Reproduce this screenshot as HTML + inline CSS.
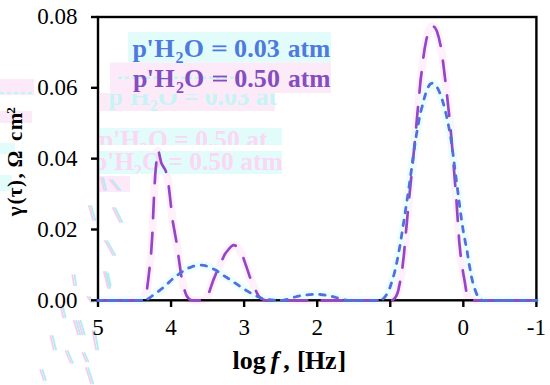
<!DOCTYPE html>
<html><head><meta charset="utf-8"><style>
html,body{margin:0;padding:0;background:#fff;}
body{width:550px;height:385px;overflow:hidden;}
svg{display:block;}
text{font-family:"Liberation Serif",serif;}
</style></head><body>
<svg width="550" height="385" viewBox="0 0 550 385">
<rect x="0" y="0" width="550" height="385" fill="#fff"/>
<defs>
<clipPath id="cg1"><rect x="98" y="94" width="190" height="17"/></clipPath>
<clipPath id="cg2"><rect x="98" y="128" width="190" height="17"/></clipPath>
<clipPath id="cg3"><rect x="98" y="151" width="190" height="23"/></clipPath>
</defs>
<g id="halo" fill="none" stroke-linecap="round" stroke-linejoin="round" stroke-width="8">
<path d="M98.00 300.30 C99.00 300.30 102.00 300.30 104.00 300.30 C106.00 300.30 108.00 300.30 110.00 300.30 C112.00 300.30 114.00 300.30 116.00 300.30 C118.00 300.30 120.00 300.30 122.00 300.30 C124.00 300.30 126.00 300.30 128.00 300.30 C130.00 300.30 132.00 300.30 134.00 300.30 C136.00 300.30 138.50 300.38 140.00 300.30 C141.50 300.22 142.17 300.35 143.00 299.80 C143.83 299.25 144.52 298.01 145.00 297.00 C145.48 295.99 145.60 294.83 145.90 293.75 C146.20 292.67 146.53 291.92 146.80 290.50 C147.07 289.08 147.27 287.00 147.50 285.25 C147.73 283.50 147.97 281.82 148.20 280.00 C148.42 278.18 148.63 276.20 148.85 274.30 C149.07 272.40 149.31 270.31 149.50 268.60 C149.69 266.89 149.83 265.58 150.00 264.07 C150.17 262.56 150.33 261.04 150.50 259.53 C150.67 258.02 150.86 256.59 151.00 255.00 C151.14 253.41 151.22 251.67 151.32 250.00 C151.43 248.33 151.54 246.67 151.65 245.00 C151.76 243.33 151.87 241.67 151.98 240.00 C152.08 238.33 152.21 236.67 152.30 235.00 C152.39 233.33 152.45 231.67 152.52 230.00 C152.59 228.33 152.67 226.67 152.74 225.00 C152.81 223.33 152.89 221.67 152.96 220.00 C153.03 218.33 153.11 216.67 153.18 215.00 C153.25 213.33 153.33 211.67 153.40 210.00 C153.47 208.33 153.55 206.67 153.62 205.00 C153.70 203.33 153.78 201.67 153.85 200.00 C153.93 198.33 154.00 196.67 154.08 195.00 C154.15 193.33 154.21 191.72 154.30 190.00 C154.39 188.28 154.52 186.44 154.63 184.67 C154.74 182.89 154.86 181.11 154.97 179.33 C155.08 177.56 155.16 175.85 155.30 174.00 C155.44 172.15 155.63 170.17 155.80 168.25 C155.97 166.33 156.15 164.08 156.30 162.50 C156.45 160.92 156.57 160.00 156.70 158.75 C156.83 157.50 156.90 156.32 157.10 155.00 C157.30 153.68 157.62 151.30 157.90 150.80 C158.18 150.30 158.45 150.88 158.80 152.00 C159.15 153.12 159.68 156.08 160.00 157.50 C160.32 158.92 160.50 159.50 160.75 160.50 C161.00 161.50 161.04 162.42 161.50 163.50 C161.96 164.58 162.83 165.83 163.50 167.00 C164.17 168.17 164.87 169.00 165.50 170.50 C166.13 172.00 166.89 174.33 167.30 176.00 C167.71 177.67 167.73 179.00 167.95 180.50 C168.17 182.00 168.41 183.58 168.60 185.00 C168.79 186.42 168.91 187.67 169.07 189.00 C169.22 190.33 169.38 191.67 169.53 193.00 C169.69 194.33 169.82 195.42 170.00 197.00 C170.18 198.58 170.40 200.67 170.60 202.50 C170.80 204.33 171.02 206.36 171.20 208.00 C171.38 209.64 171.53 210.89 171.70 212.33 C171.87 213.78 172.03 215.22 172.20 216.67 C172.37 218.11 172.47 219.44 172.70 221.00 C172.93 222.56 173.30 224.33 173.60 226.00 C173.90 227.67 174.18 229.22 174.50 231.00 C174.82 232.78 175.17 234.77 175.50 236.65 C175.83 238.53 176.23 240.65 176.50 242.30 C176.77 243.95 176.90 245.12 177.10 246.53 C177.30 247.94 177.50 249.36 177.70 250.77 C177.90 252.18 178.11 253.63 178.30 255.00 C178.49 256.37 178.68 257.67 178.87 259.00 C179.06 260.33 179.24 261.67 179.43 263.00 C179.62 264.33 179.79 265.52 180.00 267.00 C180.21 268.48 180.47 270.27 180.70 271.90 C180.93 273.53 181.15 275.34 181.40 276.80 C181.65 278.26 181.93 279.37 182.20 280.65 C182.47 281.93 182.62 282.94 183.00 284.50 C183.38 286.06 183.92 288.17 184.50 290.00 C185.08 291.83 185.67 293.95 186.50 295.50 C187.33 297.05 188.42 298.50 189.50 299.30 C190.58 300.10 191.58 300.13 193.00 300.30 C194.42 300.47 196.33 300.30 198.00 300.30 C199.67 300.30 201.67 300.48 203.00 300.30 C204.33 300.12 205.25 299.93 206.00 299.20 C206.75 298.47 207.00 297.03 207.50 295.95 C208.00 294.87 208.53 293.89 209.00 292.70 C209.47 291.51 209.89 290.10 210.33 288.80 C210.78 287.50 211.22 286.20 211.67 284.90 C212.11 283.60 212.42 282.52 213.00 281.00 C213.58 279.48 214.43 277.50 215.15 275.75 C215.87 274.00 216.57 272.21 217.30 270.50 C218.03 268.79 218.80 267.17 219.55 265.50 C220.30 263.83 221.16 261.88 221.80 260.50 C222.44 259.12 222.87 258.33 223.40 257.25 C223.93 256.17 224.15 255.29 225.00 254.00 C225.85 252.71 227.42 250.78 228.50 249.50 C229.58 248.22 230.58 247.02 231.50 246.30 C232.42 245.58 233.17 245.20 234.00 245.20 C234.83 245.20 235.62 245.58 236.50 246.30 C237.38 247.02 238.53 248.38 239.30 249.50 C240.07 250.62 240.50 251.87 241.10 253.05 C241.70 254.23 242.34 255.27 242.90 256.60 C243.46 257.93 243.93 259.57 244.45 261.05 C244.97 262.53 245.52 264.10 246.00 265.50 C246.48 266.90 246.89 268.12 247.33 269.43 C247.78 270.74 248.22 272.06 248.67 273.37 C249.11 274.68 249.40 275.75 250.00 277.30 C250.60 278.85 251.50 280.87 252.25 282.65 C253.00 284.43 253.88 286.61 254.50 288.00 C255.12 289.39 255.50 290.00 256.00 291.00 C256.50 292.00 256.83 292.90 257.50 294.00 C258.17 295.10 259.08 296.68 260.00 297.60 C260.92 298.52 262.00 299.05 263.00 299.50 C264.00 299.95 264.52 300.17 266.00 300.30 C267.48 300.43 269.94 300.30 271.90 300.30 C273.87 300.30 275.84 300.30 277.81 300.30 C279.78 300.30 281.75 300.30 283.71 300.30 C285.68 300.30 287.65 300.30 289.62 300.30 C291.59 300.30 293.56 300.30 295.52 300.30 C297.49 300.30 299.46 300.30 301.43 300.30 C303.40 300.30 305.37 300.30 307.33 300.30 C309.30 300.30 311.27 300.30 313.24 300.30 C315.21 300.30 317.17 300.30 319.14 300.30 C321.11 300.30 323.08 300.30 325.05 300.30 C327.02 300.30 328.98 300.30 330.95 300.30 C332.92 300.30 334.89 300.30 336.86 300.30 C338.83 300.30 340.79 300.30 342.76 300.30 C344.73 300.30 346.70 300.30 348.67 300.30 C350.63 300.30 352.60 300.30 354.57 300.30 C356.54 300.30 358.51 300.30 360.48 300.30 C362.44 300.30 364.41 300.30 366.38 300.30 C368.35 300.30 370.32 300.30 372.29 300.30 C374.25 300.30 376.22 300.30 378.19 300.30 C380.16 300.30 382.13 300.30 384.10 300.30 C386.06 300.30 388.52 300.38 390.00 300.30 C391.48 300.22 392.00 300.43 393.00 299.80 C394.00 299.17 395.17 297.88 396.00 296.50 C396.83 295.12 397.50 293.10 398.00 291.50 C398.50 289.90 398.67 288.43 399.00 286.90 C399.33 285.37 399.72 283.73 400.00 282.30 C400.28 280.87 400.47 279.66 400.70 278.33 C400.93 277.01 401.17 275.69 401.40 274.37 C401.63 273.04 401.88 271.97 402.10 270.40 C402.32 268.83 402.52 266.76 402.73 264.93 C402.94 263.11 403.16 261.29 403.37 259.47 C403.58 257.64 403.83 255.69 404.00 254.00 C404.17 252.31 404.27 250.89 404.40 249.33 C404.53 247.78 404.67 246.22 404.80 244.67 C404.93 243.11 405.06 241.61 405.20 240.00 C405.34 238.39 405.51 236.67 405.67 235.00 C405.82 233.33 405.98 231.67 406.13 230.00 C406.29 228.33 406.44 226.67 406.60 225.00 C406.76 223.33 406.91 221.67 407.07 220.00 C407.22 218.33 407.38 216.67 407.53 215.00 C407.69 213.33 407.84 211.67 408.00 210.00 C408.16 208.33 408.33 206.67 408.50 205.00 C408.67 203.33 408.83 201.67 409.00 200.00 C409.17 198.33 409.33 196.67 409.50 195.00 C409.67 193.33 409.83 191.67 410.00 190.00 C410.17 188.33 410.33 186.67 410.50 185.00 C410.67 183.33 410.83 181.67 411.00 180.00 C411.17 178.33 411.33 176.67 411.50 175.00 C411.67 173.33 411.83 171.67 412.00 170.00 C412.17 168.33 412.33 166.67 412.50 165.00 C412.67 163.33 412.83 161.67 413.00 160.00 C413.17 158.33 413.33 156.67 413.50 155.00 C413.67 153.33 413.83 151.67 414.00 150.00 C414.17 148.33 414.33 146.67 414.50 145.00 C414.67 143.33 414.83 141.67 415.00 140.00 C415.17 138.33 415.34 136.67 415.50 135.00 C415.66 133.33 415.79 131.67 415.93 130.00 C416.08 128.33 416.22 126.67 416.37 125.00 C416.51 123.33 416.66 121.56 416.80 120.00 C416.94 118.44 417.07 117.11 417.20 115.67 C417.33 114.22 417.47 112.78 417.60 111.33 C417.73 109.89 417.87 108.39 418.00 107.00 C418.13 105.61 418.27 104.33 418.40 103.00 C418.53 101.67 418.67 100.33 418.80 99.00 C418.93 97.67 419.06 96.44 419.20 95.00 C419.34 93.56 419.49 91.89 419.63 90.33 C419.78 88.78 419.92 87.22 420.07 85.67 C420.21 84.11 420.32 82.65 420.50 81.00 C420.68 79.35 420.93 77.50 421.15 75.75 C421.37 74.00 421.59 72.25 421.80 70.50 C422.01 68.75 422.20 67.00 422.40 65.25 C422.60 63.50 422.77 61.79 423.00 60.00 C423.23 58.21 423.53 56.33 423.80 54.50 C424.07 52.67 424.31 50.75 424.60 49.00 C424.89 47.25 425.23 45.67 425.55 44.00 C425.87 42.33 426.18 40.46 426.50 39.00 C426.82 37.54 427.17 36.50 427.50 35.25 C427.83 34.00 428.00 32.79 428.50 31.50 C429.00 30.21 429.87 28.38 430.50 27.50 C431.13 26.62 431.63 26.25 432.30 26.20 C432.97 26.15 433.75 26.40 434.50 27.20 C435.25 28.00 436.25 29.82 436.80 31.00 C437.35 32.17 437.47 33.17 437.80 34.25 C438.13 35.33 438.48 36.27 438.80 37.50 C439.12 38.73 439.40 40.23 439.70 41.60 C440.00 42.97 440.31 44.16 440.60 45.70 C440.89 47.24 441.17 49.13 441.45 50.85 C441.73 52.57 442.08 54.48 442.30 56.00 C442.52 57.52 442.63 58.67 442.80 60.00 C442.97 61.33 443.13 62.67 443.30 64.00 C443.47 65.33 443.63 66.64 443.80 68.00 C443.97 69.36 444.13 70.78 444.30 72.17 C444.47 73.56 444.63 74.94 444.80 76.33 C444.97 77.72 445.13 79.11 445.30 80.50 C445.47 81.89 445.63 83.28 445.80 84.67 C445.97 86.06 446.13 87.44 446.30 88.83 C446.47 90.22 446.62 91.35 446.80 93.00 C446.98 94.65 447.20 96.83 447.40 98.75 C447.60 100.67 447.80 102.62 448.00 104.50 C448.20 106.38 448.40 108.17 448.60 110.00 C448.80 111.83 449.00 113.62 449.20 115.50 C449.40 117.38 449.60 119.33 449.80 121.25 C450.00 123.17 450.23 125.32 450.40 127.00 C450.57 128.68 450.67 129.89 450.80 131.33 C450.93 132.78 451.07 134.22 451.20 135.67 C451.33 137.11 451.47 138.44 451.60 140.00 C451.73 141.56 451.87 143.33 452.00 145.00 C452.13 146.67 452.27 148.33 452.40 150.00 C452.53 151.67 452.67 153.33 452.80 155.00 C452.93 156.67 453.07 158.33 453.20 160.00 C453.33 161.67 453.47 163.33 453.60 165.00 C453.73 166.67 453.87 168.33 454.00 170.00 C454.13 171.67 454.27 173.33 454.40 175.00 C454.53 176.67 454.67 178.33 454.80 180.00 C454.93 181.67 455.07 183.33 455.20 185.00 C455.33 186.67 455.47 188.33 455.60 190.00 C455.73 191.67 455.87 193.33 456.00 195.00 C456.13 196.67 456.28 198.33 456.40 200.00 C456.52 201.67 456.62 203.33 456.73 205.00 C456.84 206.67 456.96 208.33 457.07 210.00 C457.18 211.67 457.29 213.44 457.40 215.00 C457.51 216.56 457.60 217.89 457.70 219.33 C457.80 220.78 457.90 222.22 458.00 223.67 C458.10 225.11 458.20 226.56 458.30 228.00 C458.40 229.44 458.50 230.89 458.60 232.33 C458.70 233.78 458.80 235.22 458.90 236.67 C459.00 238.11 459.08 239.56 459.20 241.00 C459.32 242.44 459.49 243.89 459.63 245.33 C459.78 246.78 459.92 248.22 460.07 249.67 C460.21 251.11 460.32 252.44 460.50 254.00 C460.68 255.56 460.93 257.33 461.15 259.00 C461.37 260.67 461.57 262.42 461.80 264.00 C462.03 265.58 462.27 267.00 462.50 268.50 C462.73 270.00 462.95 271.50 463.20 273.00 C463.45 274.50 463.73 276.00 464.00 277.50 C464.27 279.00 464.55 280.52 464.80 282.00 C465.05 283.48 465.27 284.90 465.50 286.35 C465.73 287.80 465.87 289.09 466.20 290.70 C466.53 292.31 467.03 294.57 467.50 296.00 C467.97 297.43 468.42 298.58 469.00 299.30 C469.58 300.02 469.67 300.13 471.00 300.30 C472.33 300.47 475.00 300.30 477.00 300.30 C479.00 300.30 481.00 300.30 483.00 300.30 C485.00 300.30 487.00 300.30 489.00 300.30 C491.00 300.30 493.00 300.30 495.00 300.30 C497.00 300.30 499.00 300.30 501.00 300.30 C503.00 300.30 505.00 300.30 507.00 300.30 C509.00 300.30 511.00 300.30 513.00 300.30 C515.00 300.30 517.00 300.30 519.00 300.30 C521.00 300.30 523.00 300.30 525.00 300.30 C527.00 300.30 529.00 300.30 531.00 300.30 C533.00 300.30 536.00 300.30 537.00 300.30" stroke="#fff1fb"/>
<path d="M98.00 300.30 C98.94 300.30 101.75 300.30 103.62 300.30 C105.50 300.30 107.38 300.30 109.25 300.30 C111.12 300.30 113.00 300.30 114.88 300.30 C116.75 300.30 118.62 300.30 120.50 300.30 C122.38 300.30 124.25 300.30 126.12 300.30 C128.00 300.30 129.88 300.30 131.75 300.30 C133.62 300.30 135.50 300.30 137.38 300.30 C139.25 300.30 141.56 300.38 143.00 300.30 C144.44 300.22 145.00 300.15 146.00 299.80 C147.00 299.45 147.83 298.95 149.00 298.20 C150.17 297.45 151.67 296.27 153.00 295.30 C154.33 294.33 155.89 293.22 157.00 292.40 C158.11 291.58 158.77 291.07 159.65 290.40 C160.53 289.73 161.41 289.14 162.30 288.40 C163.19 287.66 164.10 286.77 165.00 285.95 C165.90 285.13 166.53 284.57 167.70 283.50 C168.87 282.43 170.88 280.49 172.00 279.50 C173.12 278.51 173.60 278.20 174.40 277.55 C175.20 276.90 175.98 276.23 176.80 275.60 C177.62 274.98 178.47 274.40 179.30 273.80 C180.13 273.20 180.93 272.59 181.80 272.00 C182.68 271.41 183.63 270.83 184.55 270.25 C185.47 269.67 186.32 268.98 187.30 268.50 C188.28 268.02 189.40 267.73 190.45 267.35 C191.50 266.97 192.34 266.52 193.60 266.20 C194.86 265.88 196.63 265.57 198.00 265.40 C199.37 265.23 200.63 265.17 201.80 265.20 C202.97 265.23 203.93 265.37 205.00 265.60 C206.07 265.83 206.98 266.12 208.20 266.60 C209.42 267.08 211.00 267.88 212.30 268.50 C213.60 269.12 214.72 269.55 216.00 270.30 C217.28 271.05 218.73 272.13 220.00 273.00 C221.27 273.87 222.47 274.74 223.60 275.50 C224.73 276.26 225.73 276.87 226.80 277.55 C227.87 278.23 228.87 278.86 230.00 279.60 C231.13 280.34 232.47 281.23 233.60 282.00 C234.73 282.77 235.73 283.47 236.80 284.20 C237.87 284.93 238.87 285.63 240.00 286.40 C241.13 287.17 242.47 288.07 243.60 288.80 C244.73 289.53 245.73 290.10 246.80 290.75 C247.87 291.40 248.87 292.07 250.00 292.70 C251.13 293.32 252.27 293.82 253.60 294.50 C254.93 295.18 256.60 296.17 258.00 296.80 C259.40 297.43 260.67 297.90 262.00 298.30 C263.33 298.70 264.83 298.99 266.00 299.20 C267.17 299.41 268.00 299.43 269.00 299.55 C270.00 299.67 271.00 299.81 272.00 299.90 C273.00 299.99 274.00 300.03 275.00 300.10 C276.00 300.17 276.67 300.27 278.00 300.30 C279.33 300.33 281.42 300.47 283.00 300.30 C284.58 300.13 286.00 299.73 287.50 299.30 C289.00 298.87 290.58 298.12 292.00 297.70 C293.42 297.27 294.67 297.07 296.00 296.75 C297.33 296.43 298.75 296.04 300.00 295.80 C301.25 295.56 302.33 295.47 303.50 295.30 C304.67 295.13 305.83 294.93 307.00 294.80 C308.17 294.68 309.33 294.63 310.50 294.55 C311.67 294.47 312.92 294.33 314.00 294.30 C315.08 294.27 316.00 294.37 317.00 294.40 C318.00 294.43 318.92 294.42 320.00 294.50 C321.08 294.58 322.33 294.77 323.50 294.90 C324.67 295.03 325.92 295.12 327.00 295.30 C328.08 295.48 329.00 295.77 330.00 296.00 C331.00 296.23 332.00 296.45 333.00 296.70 C334.00 296.95 335.00 297.23 336.00 297.50 C337.00 297.77 337.75 297.95 339.00 298.30 C340.25 298.65 342.17 299.27 343.50 299.60 C344.83 299.93 345.56 300.18 347.00 300.30 C348.44 300.42 350.44 300.30 352.17 300.30 C353.89 300.30 355.61 300.30 357.33 300.30 C359.06 300.30 360.78 300.30 362.50 300.30 C364.22 300.30 365.94 300.30 367.67 300.30 C369.39 300.30 371.11 300.30 372.83 300.30 C374.56 300.30 376.64 300.38 378.00 300.30 C379.36 300.22 380.08 300.10 381.00 299.80 C381.92 299.50 382.67 299.22 383.50 298.50 C384.33 297.78 385.15 296.75 386.00 295.50 C386.85 294.25 387.85 292.58 388.60 291.00 C389.35 289.42 390.02 287.33 390.50 286.00 C390.98 284.67 391.13 284.00 391.45 283.00 C391.77 282.00 392.08 281.04 392.40 280.00 C392.72 278.96 393.03 277.83 393.35 276.75 C393.67 275.67 393.98 274.72 394.30 273.50 C394.62 272.28 394.93 270.80 395.25 269.45 C395.57 268.10 395.89 266.82 396.20 265.40 C396.51 263.98 396.80 262.43 397.10 260.95 C397.40 259.47 397.68 258.16 398.00 256.50 C398.32 254.84 398.67 252.83 399.00 251.00 C399.33 249.17 399.72 247.11 400.00 245.50 C400.28 243.89 400.44 242.72 400.67 241.33 C400.89 239.94 401.11 238.56 401.33 237.17 C401.56 235.78 401.78 234.42 402.00 233.00 C402.22 231.58 402.44 230.11 402.67 228.67 C402.89 227.22 403.11 225.78 403.33 224.33 C403.56 222.89 403.78 221.44 404.00 220.00 C404.22 218.56 404.44 217.11 404.67 215.67 C404.89 214.22 405.11 212.78 405.33 211.33 C405.56 209.89 405.78 208.44 406.00 207.00 C406.22 205.56 406.44 204.11 406.67 202.67 C406.89 201.22 407.11 199.78 407.33 198.33 C407.56 196.89 407.78 195.50 408.00 194.00 C408.22 192.50 408.44 190.89 408.67 189.33 C408.89 187.78 409.11 186.22 409.33 184.67 C409.56 183.11 409.78 181.56 410.00 180.00 C410.22 178.44 410.44 176.89 410.67 175.33 C410.89 173.78 411.11 172.22 411.33 170.67 C411.56 169.11 411.79 167.56 412.00 166.00 C412.21 164.44 412.40 162.89 412.60 161.33 C412.80 159.78 413.00 158.22 413.20 156.67 C413.40 155.11 413.61 153.44 413.80 152.00 C413.99 150.56 414.18 149.33 414.37 148.00 C414.56 146.67 414.74 145.33 414.93 144.00 C415.12 142.67 415.24 141.62 415.50 140.00 C415.76 138.38 416.17 136.17 416.50 134.25 C416.83 132.33 417.17 130.38 417.50 128.50 C417.83 126.62 418.17 124.83 418.50 123.00 C418.83 121.17 419.19 119.04 419.50 117.50 C419.81 115.96 420.07 115.00 420.35 113.75 C420.63 112.50 420.81 111.54 421.20 110.00 C421.59 108.46 422.32 105.92 422.70 104.50 C423.07 103.08 423.20 102.50 423.45 101.50 C423.70 100.50 423.92 99.50 424.20 98.50 C424.48 97.50 424.80 96.50 425.10 95.50 C425.40 94.50 425.52 93.83 426.00 92.50 C426.48 91.17 427.33 88.87 428.00 87.50 C428.67 86.13 429.38 85.00 430.00 84.30 C430.62 83.60 431.12 83.42 431.70 83.30 C432.28 83.18 432.87 83.28 433.50 83.60 C434.13 83.92 434.83 84.47 435.50 85.20 C436.17 85.93 436.88 86.95 437.50 88.00 C438.12 89.05 438.65 90.25 439.20 91.50 C439.75 92.75 440.23 93.92 440.80 95.50 C441.37 97.08 442.14 99.54 442.60 101.00 C443.06 102.46 443.23 103.17 443.55 104.25 C443.87 105.33 444.20 106.38 444.50 107.50 C444.80 108.62 445.07 109.83 445.35 111.00 C445.63 112.17 445.94 113.38 446.20 114.50 C446.46 115.62 446.67 116.67 446.90 117.75 C447.13 118.83 447.37 119.88 447.60 121.00 C447.83 122.12 448.07 123.33 448.30 124.50 C448.53 125.67 448.76 126.75 449.00 128.00 C449.24 129.25 449.50 130.67 449.75 132.00 C450.00 133.33 450.25 134.50 450.50 136.00 C450.75 137.50 451.00 139.33 451.25 141.00 C451.50 142.67 451.79 144.50 452.00 146.00 C452.21 147.50 452.33 148.67 452.50 150.00 C452.67 151.33 452.83 152.67 453.00 154.00 C453.17 155.33 453.33 156.67 453.50 158.00 C453.67 159.33 453.83 160.67 454.00 162.00 C454.17 163.33 454.33 164.67 454.50 166.00 C454.67 167.33 454.83 168.67 455.00 170.00 C455.17 171.33 455.36 172.67 455.53 174.00 C455.71 175.33 455.89 176.67 456.07 178.00 C456.24 179.33 456.39 180.42 456.60 182.00 C456.81 183.58 457.07 185.67 457.30 187.50 C457.53 189.33 457.77 191.25 458.00 193.00 C458.23 194.75 458.43 196.33 458.65 198.00 C458.87 199.67 459.08 201.33 459.30 203.00 C459.52 204.67 459.73 206.33 459.95 208.00 C460.17 209.67 460.38 211.33 460.60 213.00 C460.83 214.67 461.07 216.33 461.30 218.00 C461.53 219.67 461.76 221.38 462.00 223.00 C462.24 224.62 462.50 226.17 462.75 227.75 C463.00 229.33 463.23 230.92 463.50 232.50 C463.77 234.08 464.10 235.67 464.40 237.25 C464.70 238.83 465.01 240.50 465.30 242.00 C465.59 243.50 465.87 244.83 466.15 246.25 C466.43 247.67 466.73 248.92 467.00 250.50 C467.27 252.08 467.53 254.00 467.80 255.75 C468.07 257.50 468.33 259.34 468.60 261.00 C468.88 262.66 469.17 264.13 469.45 265.70 C469.73 267.27 470.06 269.07 470.30 270.40 C470.54 271.73 470.70 272.60 470.90 273.70 C471.10 274.80 471.26 275.87 471.50 277.00 C471.74 278.13 472.07 279.33 472.35 280.50 C472.63 281.67 472.76 282.50 473.20 284.00 C473.64 285.50 474.43 287.87 475.00 289.50 C475.57 291.13 476.05 292.58 476.60 293.80 C477.15 295.02 477.68 295.90 478.30 296.80 C478.92 297.70 479.52 298.62 480.30 299.20 C481.08 299.78 481.55 300.12 483.00 300.30 C484.45 300.48 487.00 300.30 489.00 300.30 C491.00 300.30 493.00 300.30 495.00 300.30 C497.00 300.30 499.00 300.30 501.00 300.30 C503.00 300.30 505.00 300.30 507.00 300.30 C509.00 300.30 511.00 300.30 513.00 300.30 C515.00 300.30 517.00 300.30 519.00 300.30 C521.00 300.30 523.00 300.30 525.00 300.30 C527.00 300.30 529.00 300.30 531.00 300.30 C533.00 300.30 536.00 300.30 537.00 300.30" stroke="#ebfefe"/>
</g>
<g id="ghost">
<rect x="128" y="32" width="203" height="30.5" fill="#e2fcfc"/>
<rect x="110" y="62.5" width="221" height="30.5" fill="#fdeaf8"/>
<rect x="100" y="93" width="175" height="18" fill="#fdeaf8"/>
<rect x="100" y="128" width="182" height="17" fill="#e2fcfc"/>
<rect x="97" y="151" width="185" height="23" fill="#e2fcfc"/>
<rect x="98" y="176" width="32" height="16" fill="#fdeaf8"/>
<rect x="0" y="79" width="34" height="16" fill="#fdeaf8"/>
<rect x="0" y="111" width="32" height="12" fill="#fdeaf8"/>
<g font-weight="bold" font-size="25.5">
<text x="108.6" y="105" fill="#c4f5f5" clip-path="url(#cg1)">p'H<tspan font-size="16" dy="6">2</tspan><tspan dy="-6">O = 0.03 at</tspan></text>
<text x="99" y="148.3" fill="#fad8f3" clip-path="url(#cg2)">p'H<tspan font-size="16" dy="6">2</tspan><tspan dy="-6">O = 0.50 at</tspan></text>
<text x="93" y="170" fill="#fad8f3" clip-path="url(#cg3)">p'H<tspan font-size="16" dy="6">2</tspan><tspan dy="-6">O = 0.50 atm</tspan></text>
</g>
<rect x="0" y="143" width="15" height="11" fill="#e2fcfc"/>
<rect x="0" y="175" width="12" height="16" fill="#e2fcfc"/>
<g stroke-width="1.9" stroke-linecap="round" fill="none"><line x1="72.4" y1="275.3" x2="74.0" y2="285.4" stroke="#f8ccee"/><line x1="74.6" y1="275.3" x2="76.2" y2="285.4" stroke="#b0eef2"/><line x1="106.0" y1="273.6" x2="108.5" y2="285.4" stroke="#f8ccee"/><line x1="108.2" y1="273.6" x2="110.7" y2="285.4" stroke="#b0eef2"/><line x1="87.6" y1="297.0" x2="91.0" y2="302.0" stroke="#f8ccee"/><line x1="89.8" y1="297.0" x2="93.2" y2="302.0" stroke="#b0eef2"/><line x1="60.5" y1="305.7" x2="63.2" y2="317.5" stroke="#f8ccee"/><line x1="62.7" y1="305.7" x2="65.4" y2="317.5" stroke="#b0eef2"/><line x1="74.0" y1="321.0" x2="78.0" y2="334.4" stroke="#f8ccee"/><line x1="76.2" y1="321.0" x2="80.2" y2="334.4" stroke="#b0eef2"/><line x1="78.5" y1="321.0" x2="82.5" y2="334.4" stroke="#f8ccee"/><line x1="80.7" y1="321.0" x2="84.7" y2="334.4" stroke="#b0eef2"/><line x1="92.6" y1="331.0" x2="96.0" y2="349.6" stroke="#f8ccee"/><line x1="94.8" y1="331.0" x2="98.2" y2="349.6" stroke="#b0eef2"/><line x1="50.4" y1="336.0" x2="53.8" y2="349.6" stroke="#f8ccee"/><line x1="52.6" y1="336.0" x2="56.0" y2="349.6" stroke="#b0eef2"/><line x1="65.6" y1="351.0" x2="70.7" y2="363.0" stroke="#f8ccee"/><line x1="67.8" y1="351.0" x2="72.9" y2="363.0" stroke="#b0eef2"/><line x1="82.5" y1="353.0" x2="86.0" y2="361.4" stroke="#f8ccee"/><line x1="84.7" y1="353.0" x2="88.2" y2="361.4" stroke="#b0eef2"/><line x1="40.3" y1="370.0" x2="43.6" y2="380.0" stroke="#f8ccee"/><line x1="42.5" y1="370.0" x2="45.8" y2="380.0" stroke="#b0eef2"/><line x1="86.0" y1="368.0" x2="91.0" y2="383.4" stroke="#f8ccee"/><line x1="88.2" y1="368.0" x2="93.2" y2="383.4" stroke="#b0eef2"/><line x1="101.0" y1="178.0" x2="104.0" y2="190.0" stroke="#f8ccee"/><line x1="103.2" y1="178.0" x2="106.2" y2="190.0" stroke="#b0eef2"/><line x1="110.0" y1="180.0" x2="118.0" y2="190.0" stroke="#f8ccee"/><line x1="112.2" y1="180.0" x2="120.2" y2="190.0" stroke="#b0eef2"/><line x1="113.0" y1="208.0" x2="120.0" y2="222.0" stroke="#f8ccee"/><line x1="115.2" y1="208.0" x2="122.2" y2="222.0" stroke="#b0eef2"/><line x1="105.0" y1="241.0" x2="113.0" y2="255.0" stroke="#f8ccee"/><line x1="107.2" y1="241.0" x2="115.2" y2="255.0" stroke="#b0eef2"/><line x1="104.0" y1="272.0" x2="108.0" y2="288.0" stroke="#f8ccee"/><line x1="106.2" y1="272.0" x2="110.2" y2="288.0" stroke="#b0eef2"/><line x1="89.0" y1="206.0" x2="93.0" y2="220.0" stroke="#f8ccee"/><line x1="91.2" y1="206.0" x2="95.2" y2="220.0" stroke="#b0eef2"/></g>
<g stroke="#c4f5f5" stroke-width="2.5" stroke-dasharray="4 3">
<line x1="0" y1="93" x2="33" y2="93"/>
<line x1="118" y1="77.8" x2="234" y2="77.8"/>
</g>
</g>
<g fill="none" stroke="#000" stroke-width="2.4">
<rect x="98" y="17" width="438.40" height="283.30" />
<line x1="98.00" y1="300.30" x2="98.00" y2="307" /><line x1="171.07" y1="300.30" x2="171.07" y2="307" /><line x1="244.13" y1="300.30" x2="244.13" y2="307" /><line x1="317.20" y1="300.30" x2="317.20" y2="307" /><line x1="390.27" y1="300.30" x2="390.27" y2="307" /><line x1="463.33" y1="300.30" x2="463.33" y2="307" /><line x1="536.40" y1="300.30" x2="536.40" y2="307" /><line x1="91" y1="300.30" x2="98.00" y2="300.30" /><line x1="91" y1="229.48" x2="98.00" y2="229.48" /><line x1="91" y1="158.65" x2="98.00" y2="158.65" /><line x1="91" y1="87.82" x2="98.00" y2="87.82" /><line x1="91" y1="17.00" x2="98.00" y2="17.00" />
</g>
<g font-size="23" fill="#000"><text x="98.00" y="335.3" text-anchor="middle">5</text><text x="171.07" y="335.3" text-anchor="middle">4</text><text x="244.13" y="335.3" text-anchor="middle">3</text><text x="317.20" y="335.3" text-anchor="middle">2</text><text x="390.27" y="335.3" text-anchor="middle">1</text><text x="463.33" y="335.3" text-anchor="middle">0</text><text x="536.40" y="335.3" text-anchor="middle">-1</text><text x="77.4" y="307.50" text-anchor="end">0.00</text><text x="77.4" y="236.68" text-anchor="end">0.02</text><text x="77.4" y="165.85" text-anchor="end">0.04</text><text x="77.4" y="95.02" text-anchor="end">0.06</text><text x="77.4" y="24.20" text-anchor="end">0.08</text></g>
<g font-weight="bold" font-size="26">
<g fill="#4e7ade">
<text x="132.4 146.4 154.2" y="56.5">p'H</text><text x="175.5" y="62.5" font-size="16">2</text><text x="183.7" y="56.5">O</text>
<rect x="212.6" y="45.4" width="13.8" height="1.8"/><rect x="212.6" y="49.5" width="13.8" height="1.8"/><text x="234.1" y="56.8" font-size="26.1">0.03</text><text x="287.8" y="56.5" font-size="25.5">atm</text>
</g>
<g fill="#844ec0">
<text x="133 146.7 154.5" y="86.7">p'H</text><text x="175.9" y="92.7" font-size="16">2</text><text x="184" y="86.7">O</text>
<rect x="213" y="75.6" width="14" height="1.8"/><rect x="213" y="79.7" width="14" height="1.8"/><text x="234.3" y="87" font-size="26.1">0.50</text><text x="288" y="86.7" font-size="25.5">atm</text>
</g>
</g>
<g stroke="#6c62d6" stroke-width="2.6" fill="none"><line x1="98" y1="300.3" x2="143" y2="300.3"/><line x1="280" y1="300.3" x2="287" y2="300.3"/><line x1="344" y1="300.3" x2="378" y2="300.3"/><line x1="482" y1="300.3" x2="536" y2="300.3"/></g>
<path d="M98.00 300.30 C99.00 300.30 102.00 300.30 104.00 300.30 C106.00 300.30 108.00 300.30 110.00 300.30 C112.00 300.30 114.00 300.30 116.00 300.30 C118.00 300.30 120.00 300.30 122.00 300.30 C124.00 300.30 126.00 300.30 128.00 300.30 C130.00 300.30 132.00 300.30 134.00 300.30 C136.00 300.30 138.50 300.38 140.00 300.30 C141.50 300.22 142.17 300.35 143.00 299.80 C143.83 299.25 144.52 298.01 145.00 297.00 C145.48 295.99 145.60 294.83 145.90 293.75 C146.20 292.67 146.53 291.92 146.80 290.50 C147.07 289.08 147.27 287.00 147.50 285.25 C147.73 283.50 147.97 281.82 148.20 280.00 C148.42 278.18 148.63 276.20 148.85 274.30 C149.07 272.40 149.31 270.31 149.50 268.60 C149.69 266.89 149.83 265.58 150.00 264.07 C150.17 262.56 150.33 261.04 150.50 259.53 C150.67 258.02 150.86 256.59 151.00 255.00 C151.14 253.41 151.22 251.67 151.32 250.00 C151.43 248.33 151.54 246.67 151.65 245.00 C151.76 243.33 151.87 241.67 151.98 240.00 C152.08 238.33 152.21 236.67 152.30 235.00 C152.39 233.33 152.45 231.67 152.52 230.00 C152.59 228.33 152.67 226.67 152.74 225.00 C152.81 223.33 152.89 221.67 152.96 220.00 C153.03 218.33 153.11 216.67 153.18 215.00 C153.25 213.33 153.33 211.67 153.40 210.00 C153.47 208.33 153.55 206.67 153.62 205.00 C153.70 203.33 153.78 201.67 153.85 200.00 C153.93 198.33 154.00 196.67 154.08 195.00 C154.15 193.33 154.21 191.72 154.30 190.00 C154.39 188.28 154.52 186.44 154.63 184.67 C154.74 182.89 154.86 181.11 154.97 179.33 C155.08 177.56 155.16 175.85 155.30 174.00 C155.44 172.15 155.63 170.17 155.80 168.25 C155.97 166.33 156.15 164.08 156.30 162.50 C156.45 160.92 156.57 160.00 156.70 158.75 C156.83 157.50 156.90 156.32 157.10 155.00 C157.30 153.68 157.62 151.30 157.90 150.80 C158.18 150.30 158.45 150.88 158.80 152.00 C159.15 153.12 159.68 156.08 160.00 157.50 C160.32 158.92 160.50 159.50 160.75 160.50 C161.00 161.50 161.04 162.42 161.50 163.50 C161.96 164.58 162.83 165.83 163.50 167.00 C164.17 168.17 164.87 169.00 165.50 170.50 C166.13 172.00 166.89 174.33 167.30 176.00 C167.71 177.67 167.73 179.00 167.95 180.50 C168.17 182.00 168.41 183.58 168.60 185.00 C168.79 186.42 168.91 187.67 169.07 189.00 C169.22 190.33 169.38 191.67 169.53 193.00 C169.69 194.33 169.82 195.42 170.00 197.00 C170.18 198.58 170.40 200.67 170.60 202.50 C170.80 204.33 171.02 206.36 171.20 208.00 C171.38 209.64 171.53 210.89 171.70 212.33 C171.87 213.78 172.03 215.22 172.20 216.67 C172.37 218.11 172.47 219.44 172.70 221.00 C172.93 222.56 173.30 224.33 173.60 226.00 C173.90 227.67 174.18 229.22 174.50 231.00 C174.82 232.78 175.17 234.77 175.50 236.65 C175.83 238.53 176.23 240.65 176.50 242.30 C176.77 243.95 176.90 245.12 177.10 246.53 C177.30 247.94 177.50 249.36 177.70 250.77 C177.90 252.18 178.11 253.63 178.30 255.00 C178.49 256.37 178.68 257.67 178.87 259.00 C179.06 260.33 179.24 261.67 179.43 263.00 C179.62 264.33 179.79 265.52 180.00 267.00 C180.21 268.48 180.47 270.27 180.70 271.90 C180.93 273.53 181.15 275.34 181.40 276.80 C181.65 278.26 181.93 279.37 182.20 280.65 C182.47 281.93 182.62 282.94 183.00 284.50 C183.38 286.06 183.92 288.17 184.50 290.00 C185.08 291.83 185.67 293.95 186.50 295.50 C187.33 297.05 188.42 298.50 189.50 299.30 C190.58 300.10 191.58 300.13 193.00 300.30 C194.42 300.47 196.33 300.30 198.00 300.30 C199.67 300.30 201.67 300.48 203.00 300.30 C204.33 300.12 205.25 299.93 206.00 299.20 C206.75 298.47 207.00 297.03 207.50 295.95 C208.00 294.87 208.53 293.89 209.00 292.70 C209.47 291.51 209.89 290.10 210.33 288.80 C210.78 287.50 211.22 286.20 211.67 284.90 C212.11 283.60 212.42 282.52 213.00 281.00 C213.58 279.48 214.43 277.50 215.15 275.75 C215.87 274.00 216.57 272.21 217.30 270.50 C218.03 268.79 218.80 267.17 219.55 265.50 C220.30 263.83 221.16 261.88 221.80 260.50 C222.44 259.12 222.87 258.33 223.40 257.25 C223.93 256.17 224.15 255.29 225.00 254.00 C225.85 252.71 227.42 250.78 228.50 249.50 C229.58 248.22 230.58 247.02 231.50 246.30 C232.42 245.58 233.17 245.20 234.00 245.20 C234.83 245.20 235.62 245.58 236.50 246.30 C237.38 247.02 238.53 248.38 239.30 249.50 C240.07 250.62 240.50 251.87 241.10 253.05 C241.70 254.23 242.34 255.27 242.90 256.60 C243.46 257.93 243.93 259.57 244.45 261.05 C244.97 262.53 245.52 264.10 246.00 265.50 C246.48 266.90 246.89 268.12 247.33 269.43 C247.78 270.74 248.22 272.06 248.67 273.37 C249.11 274.68 249.40 275.75 250.00 277.30 C250.60 278.85 251.50 280.87 252.25 282.65 C253.00 284.43 253.88 286.61 254.50 288.00 C255.12 289.39 255.50 290.00 256.00 291.00 C256.50 292.00 256.83 292.90 257.50 294.00 C258.17 295.10 259.08 296.68 260.00 297.60 C260.92 298.52 262.00 299.05 263.00 299.50 C264.00 299.95 264.52 300.17 266.00 300.30 C267.48 300.43 269.94 300.30 271.90 300.30 C273.87 300.30 275.84 300.30 277.81 300.30 C279.78 300.30 281.75 300.30 283.71 300.30 C285.68 300.30 287.65 300.30 289.62 300.30 C291.59 300.30 293.56 300.30 295.52 300.30 C297.49 300.30 299.46 300.30 301.43 300.30 C303.40 300.30 305.37 300.30 307.33 300.30 C309.30 300.30 311.27 300.30 313.24 300.30 C315.21 300.30 317.17 300.30 319.14 300.30 C321.11 300.30 323.08 300.30 325.05 300.30 C327.02 300.30 328.98 300.30 330.95 300.30 C332.92 300.30 334.89 300.30 336.86 300.30 C338.83 300.30 340.79 300.30 342.76 300.30 C344.73 300.30 346.70 300.30 348.67 300.30 C350.63 300.30 352.60 300.30 354.57 300.30 C356.54 300.30 358.51 300.30 360.48 300.30 C362.44 300.30 364.41 300.30 366.38 300.30 C368.35 300.30 370.32 300.30 372.29 300.30 C374.25 300.30 376.22 300.30 378.19 300.30 C380.16 300.30 382.13 300.30 384.10 300.30 C386.06 300.30 388.52 300.38 390.00 300.30 C391.48 300.22 392.00 300.43 393.00 299.80 C394.00 299.17 395.17 297.88 396.00 296.50 C396.83 295.12 397.50 293.10 398.00 291.50 C398.50 289.90 398.67 288.43 399.00 286.90 C399.33 285.37 399.72 283.73 400.00 282.30 C400.28 280.87 400.47 279.66 400.70 278.33 C400.93 277.01 401.17 275.69 401.40 274.37 C401.63 273.04 401.88 271.97 402.10 270.40 C402.32 268.83 402.52 266.76 402.73 264.93 C402.94 263.11 403.16 261.29 403.37 259.47 C403.58 257.64 403.83 255.69 404.00 254.00 C404.17 252.31 404.27 250.89 404.40 249.33 C404.53 247.78 404.67 246.22 404.80 244.67 C404.93 243.11 405.06 241.61 405.20 240.00 C405.34 238.39 405.51 236.67 405.67 235.00 C405.82 233.33 405.98 231.67 406.13 230.00 C406.29 228.33 406.44 226.67 406.60 225.00 C406.76 223.33 406.91 221.67 407.07 220.00 C407.22 218.33 407.38 216.67 407.53 215.00 C407.69 213.33 407.84 211.67 408.00 210.00 C408.16 208.33 408.33 206.67 408.50 205.00 C408.67 203.33 408.83 201.67 409.00 200.00 C409.17 198.33 409.33 196.67 409.50 195.00 C409.67 193.33 409.83 191.67 410.00 190.00 C410.17 188.33 410.33 186.67 410.50 185.00 C410.67 183.33 410.83 181.67 411.00 180.00 C411.17 178.33 411.33 176.67 411.50 175.00 C411.67 173.33 411.83 171.67 412.00 170.00 C412.17 168.33 412.33 166.67 412.50 165.00 C412.67 163.33 412.83 161.67 413.00 160.00 C413.17 158.33 413.33 156.67 413.50 155.00 C413.67 153.33 413.83 151.67 414.00 150.00 C414.17 148.33 414.33 146.67 414.50 145.00 C414.67 143.33 414.83 141.67 415.00 140.00 C415.17 138.33 415.34 136.67 415.50 135.00 C415.66 133.33 415.79 131.67 415.93 130.00 C416.08 128.33 416.22 126.67 416.37 125.00 C416.51 123.33 416.66 121.56 416.80 120.00 C416.94 118.44 417.07 117.11 417.20 115.67 C417.33 114.22 417.47 112.78 417.60 111.33 C417.73 109.89 417.87 108.39 418.00 107.00 C418.13 105.61 418.27 104.33 418.40 103.00 C418.53 101.67 418.67 100.33 418.80 99.00 C418.93 97.67 419.06 96.44 419.20 95.00 C419.34 93.56 419.49 91.89 419.63 90.33 C419.78 88.78 419.92 87.22 420.07 85.67 C420.21 84.11 420.32 82.65 420.50 81.00 C420.68 79.35 420.93 77.50 421.15 75.75 C421.37 74.00 421.59 72.25 421.80 70.50 C422.01 68.75 422.20 67.00 422.40 65.25 C422.60 63.50 422.77 61.79 423.00 60.00 C423.23 58.21 423.53 56.33 423.80 54.50 C424.07 52.67 424.31 50.75 424.60 49.00 C424.89 47.25 425.23 45.67 425.55 44.00 C425.87 42.33 426.18 40.46 426.50 39.00 C426.82 37.54 427.17 36.50 427.50 35.25 C427.83 34.00 428.00 32.79 428.50 31.50 C429.00 30.21 429.87 28.38 430.50 27.50 C431.13 26.62 431.63 26.25 432.30 26.20 C432.97 26.15 433.75 26.40 434.50 27.20 C435.25 28.00 436.25 29.82 436.80 31.00 C437.35 32.17 437.47 33.17 437.80 34.25 C438.13 35.33 438.48 36.27 438.80 37.50 C439.12 38.73 439.40 40.23 439.70 41.60 C440.00 42.97 440.31 44.16 440.60 45.70 C440.89 47.24 441.17 49.13 441.45 50.85 C441.73 52.57 442.08 54.48 442.30 56.00 C442.52 57.52 442.63 58.67 442.80 60.00 C442.97 61.33 443.13 62.67 443.30 64.00 C443.47 65.33 443.63 66.64 443.80 68.00 C443.97 69.36 444.13 70.78 444.30 72.17 C444.47 73.56 444.63 74.94 444.80 76.33 C444.97 77.72 445.13 79.11 445.30 80.50 C445.47 81.89 445.63 83.28 445.80 84.67 C445.97 86.06 446.13 87.44 446.30 88.83 C446.47 90.22 446.62 91.35 446.80 93.00 C446.98 94.65 447.20 96.83 447.40 98.75 C447.60 100.67 447.80 102.62 448.00 104.50 C448.20 106.38 448.40 108.17 448.60 110.00 C448.80 111.83 449.00 113.62 449.20 115.50 C449.40 117.38 449.60 119.33 449.80 121.25 C450.00 123.17 450.23 125.32 450.40 127.00 C450.57 128.68 450.67 129.89 450.80 131.33 C450.93 132.78 451.07 134.22 451.20 135.67 C451.33 137.11 451.47 138.44 451.60 140.00 C451.73 141.56 451.87 143.33 452.00 145.00 C452.13 146.67 452.27 148.33 452.40 150.00 C452.53 151.67 452.67 153.33 452.80 155.00 C452.93 156.67 453.07 158.33 453.20 160.00 C453.33 161.67 453.47 163.33 453.60 165.00 C453.73 166.67 453.87 168.33 454.00 170.00 C454.13 171.67 454.27 173.33 454.40 175.00 C454.53 176.67 454.67 178.33 454.80 180.00 C454.93 181.67 455.07 183.33 455.20 185.00 C455.33 186.67 455.47 188.33 455.60 190.00 C455.73 191.67 455.87 193.33 456.00 195.00 C456.13 196.67 456.28 198.33 456.40 200.00 C456.52 201.67 456.62 203.33 456.73 205.00 C456.84 206.67 456.96 208.33 457.07 210.00 C457.18 211.67 457.29 213.44 457.40 215.00 C457.51 216.56 457.60 217.89 457.70 219.33 C457.80 220.78 457.90 222.22 458.00 223.67 C458.10 225.11 458.20 226.56 458.30 228.00 C458.40 229.44 458.50 230.89 458.60 232.33 C458.70 233.78 458.80 235.22 458.90 236.67 C459.00 238.11 459.08 239.56 459.20 241.00 C459.32 242.44 459.49 243.89 459.63 245.33 C459.78 246.78 459.92 248.22 460.07 249.67 C460.21 251.11 460.32 252.44 460.50 254.00 C460.68 255.56 460.93 257.33 461.15 259.00 C461.37 260.67 461.57 262.42 461.80 264.00 C462.03 265.58 462.27 267.00 462.50 268.50 C462.73 270.00 462.95 271.50 463.20 273.00 C463.45 274.50 463.73 276.00 464.00 277.50 C464.27 279.00 464.55 280.52 464.80 282.00 C465.05 283.48 465.27 284.90 465.50 286.35 C465.73 287.80 465.87 289.09 466.20 290.70 C466.53 292.31 467.03 294.57 467.50 296.00 C467.97 297.43 468.42 298.58 469.00 299.30 C469.58 300.02 469.67 300.13 471.00 300.30 C472.33 300.47 475.00 300.30 477.00 300.30 C479.00 300.30 481.00 300.30 483.00 300.30 C485.00 300.30 487.00 300.30 489.00 300.30 C491.00 300.30 493.00 300.30 495.00 300.30 C497.00 300.30 499.00 300.30 501.00 300.30 C503.00 300.30 505.00 300.30 507.00 300.30 C509.00 300.30 511.00 300.30 513.00 300.30 C515.00 300.30 517.00 300.30 519.00 300.30 C521.00 300.30 523.00 300.30 525.00 300.30 C527.00 300.30 529.00 300.30 531.00 300.30 C533.00 300.30 536.00 300.30 537.00 300.30" fill="none" stroke="#9646c4" stroke-width="2.7" stroke-dasharray="20.500 14.658" stroke-dashoffset="12.827" stroke-linecap="round" stroke-linejoin="round"/>
<path d="M98.00 300.30 C98.94 300.30 101.75 300.30 103.62 300.30 C105.50 300.30 107.38 300.30 109.25 300.30 C111.12 300.30 113.00 300.30 114.88 300.30 C116.75 300.30 118.62 300.30 120.50 300.30 C122.38 300.30 124.25 300.30 126.12 300.30 C128.00 300.30 129.88 300.30 131.75 300.30 C133.62 300.30 135.50 300.30 137.38 300.30 C139.25 300.30 141.56 300.38 143.00 300.30 C144.44 300.22 145.00 300.15 146.00 299.80 C147.00 299.45 147.83 298.95 149.00 298.20 C150.17 297.45 151.67 296.27 153.00 295.30 C154.33 294.33 155.89 293.22 157.00 292.40 C158.11 291.58 158.77 291.07 159.65 290.40 C160.53 289.73 161.41 289.14 162.30 288.40 C163.19 287.66 164.10 286.77 165.00 285.95 C165.90 285.13 166.53 284.57 167.70 283.50 C168.87 282.43 170.88 280.49 172.00 279.50 C173.12 278.51 173.60 278.20 174.40 277.55 C175.20 276.90 175.98 276.23 176.80 275.60 C177.62 274.98 178.47 274.40 179.30 273.80 C180.13 273.20 180.93 272.59 181.80 272.00 C182.68 271.41 183.63 270.83 184.55 270.25 C185.47 269.67 186.32 268.98 187.30 268.50 C188.28 268.02 189.40 267.73 190.45 267.35 C191.50 266.97 192.34 266.52 193.60 266.20 C194.86 265.88 196.63 265.57 198.00 265.40 C199.37 265.23 200.63 265.17 201.80 265.20 C202.97 265.23 203.93 265.37 205.00 265.60 C206.07 265.83 206.98 266.12 208.20 266.60 C209.42 267.08 211.00 267.88 212.30 268.50 C213.60 269.12 214.72 269.55 216.00 270.30 C217.28 271.05 218.73 272.13 220.00 273.00 C221.27 273.87 222.47 274.74 223.60 275.50 C224.73 276.26 225.73 276.87 226.80 277.55 C227.87 278.23 228.87 278.86 230.00 279.60 C231.13 280.34 232.47 281.23 233.60 282.00 C234.73 282.77 235.73 283.47 236.80 284.20 C237.87 284.93 238.87 285.63 240.00 286.40 C241.13 287.17 242.47 288.07 243.60 288.80 C244.73 289.53 245.73 290.10 246.80 290.75 C247.87 291.40 248.87 292.07 250.00 292.70 C251.13 293.32 252.27 293.82 253.60 294.50 C254.93 295.18 256.60 296.17 258.00 296.80 C259.40 297.43 260.67 297.90 262.00 298.30 C263.33 298.70 264.83 298.99 266.00 299.20 C267.17 299.41 268.00 299.43 269.00 299.55 C270.00 299.67 271.00 299.81 272.00 299.90 C273.00 299.99 274.00 300.03 275.00 300.10 C276.00 300.17 276.67 300.27 278.00 300.30 C279.33 300.33 281.42 300.47 283.00 300.30 C284.58 300.13 286.00 299.73 287.50 299.30 C289.00 298.87 290.58 298.12 292.00 297.70 C293.42 297.27 294.67 297.07 296.00 296.75 C297.33 296.43 298.75 296.04 300.00 295.80 C301.25 295.56 302.33 295.47 303.50 295.30 C304.67 295.13 305.83 294.93 307.00 294.80 C308.17 294.68 309.33 294.63 310.50 294.55 C311.67 294.47 312.92 294.33 314.00 294.30 C315.08 294.27 316.00 294.37 317.00 294.40 C318.00 294.43 318.92 294.42 320.00 294.50 C321.08 294.58 322.33 294.77 323.50 294.90 C324.67 295.03 325.92 295.12 327.00 295.30 C328.08 295.48 329.00 295.77 330.00 296.00 C331.00 296.23 332.00 296.45 333.00 296.70 C334.00 296.95 335.00 297.23 336.00 297.50 C337.00 297.77 337.75 297.95 339.00 298.30 C340.25 298.65 342.17 299.27 343.50 299.60 C344.83 299.93 345.56 300.18 347.00 300.30 C348.44 300.42 350.44 300.30 352.17 300.30 C353.89 300.30 355.61 300.30 357.33 300.30 C359.06 300.30 360.78 300.30 362.50 300.30 C364.22 300.30 365.94 300.30 367.67 300.30 C369.39 300.30 371.11 300.30 372.83 300.30 C374.56 300.30 376.64 300.38 378.00 300.30 C379.36 300.22 380.08 300.10 381.00 299.80 C381.92 299.50 382.67 299.22 383.50 298.50 C384.33 297.78 385.15 296.75 386.00 295.50 C386.85 294.25 387.85 292.58 388.60 291.00 C389.35 289.42 390.02 287.33 390.50 286.00 C390.98 284.67 391.13 284.00 391.45 283.00 C391.77 282.00 392.08 281.04 392.40 280.00 C392.72 278.96 393.03 277.83 393.35 276.75 C393.67 275.67 393.98 274.72 394.30 273.50 C394.62 272.28 394.93 270.80 395.25 269.45 C395.57 268.10 395.89 266.82 396.20 265.40 C396.51 263.98 396.80 262.43 397.10 260.95 C397.40 259.47 397.68 258.16 398.00 256.50 C398.32 254.84 398.67 252.83 399.00 251.00 C399.33 249.17 399.72 247.11 400.00 245.50 C400.28 243.89 400.44 242.72 400.67 241.33 C400.89 239.94 401.11 238.56 401.33 237.17 C401.56 235.78 401.78 234.42 402.00 233.00 C402.22 231.58 402.44 230.11 402.67 228.67 C402.89 227.22 403.11 225.78 403.33 224.33 C403.56 222.89 403.78 221.44 404.00 220.00 C404.22 218.56 404.44 217.11 404.67 215.67 C404.89 214.22 405.11 212.78 405.33 211.33 C405.56 209.89 405.78 208.44 406.00 207.00 C406.22 205.56 406.44 204.11 406.67 202.67 C406.89 201.22 407.11 199.78 407.33 198.33 C407.56 196.89 407.78 195.50 408.00 194.00 C408.22 192.50 408.44 190.89 408.67 189.33 C408.89 187.78 409.11 186.22 409.33 184.67 C409.56 183.11 409.78 181.56 410.00 180.00 C410.22 178.44 410.44 176.89 410.67 175.33 C410.89 173.78 411.11 172.22 411.33 170.67 C411.56 169.11 411.79 167.56 412.00 166.00 C412.21 164.44 412.40 162.89 412.60 161.33 C412.80 159.78 413.00 158.22 413.20 156.67 C413.40 155.11 413.61 153.44 413.80 152.00 C413.99 150.56 414.18 149.33 414.37 148.00 C414.56 146.67 414.74 145.33 414.93 144.00 C415.12 142.67 415.24 141.62 415.50 140.00 C415.76 138.38 416.17 136.17 416.50 134.25 C416.83 132.33 417.17 130.38 417.50 128.50 C417.83 126.62 418.17 124.83 418.50 123.00 C418.83 121.17 419.19 119.04 419.50 117.50 C419.81 115.96 420.07 115.00 420.35 113.75 C420.63 112.50 420.81 111.54 421.20 110.00 C421.59 108.46 422.32 105.92 422.70 104.50 C423.07 103.08 423.20 102.50 423.45 101.50 C423.70 100.50 423.92 99.50 424.20 98.50 C424.48 97.50 424.80 96.50 425.10 95.50 C425.40 94.50 425.52 93.83 426.00 92.50 C426.48 91.17 427.33 88.87 428.00 87.50 C428.67 86.13 429.38 85.00 430.00 84.30 C430.62 83.60 431.12 83.42 431.70 83.30 C432.28 83.18 432.87 83.28 433.50 83.60 C434.13 83.92 434.83 84.47 435.50 85.20 C436.17 85.93 436.88 86.95 437.50 88.00 C438.12 89.05 438.65 90.25 439.20 91.50 C439.75 92.75 440.23 93.92 440.80 95.50 C441.37 97.08 442.14 99.54 442.60 101.00 C443.06 102.46 443.23 103.17 443.55 104.25 C443.87 105.33 444.20 106.38 444.50 107.50 C444.80 108.62 445.07 109.83 445.35 111.00 C445.63 112.17 445.94 113.38 446.20 114.50 C446.46 115.62 446.67 116.67 446.90 117.75 C447.13 118.83 447.37 119.88 447.60 121.00 C447.83 122.12 448.07 123.33 448.30 124.50 C448.53 125.67 448.76 126.75 449.00 128.00 C449.24 129.25 449.50 130.67 449.75 132.00 C450.00 133.33 450.25 134.50 450.50 136.00 C450.75 137.50 451.00 139.33 451.25 141.00 C451.50 142.67 451.79 144.50 452.00 146.00 C452.21 147.50 452.33 148.67 452.50 150.00 C452.67 151.33 452.83 152.67 453.00 154.00 C453.17 155.33 453.33 156.67 453.50 158.00 C453.67 159.33 453.83 160.67 454.00 162.00 C454.17 163.33 454.33 164.67 454.50 166.00 C454.67 167.33 454.83 168.67 455.00 170.00 C455.17 171.33 455.36 172.67 455.53 174.00 C455.71 175.33 455.89 176.67 456.07 178.00 C456.24 179.33 456.39 180.42 456.60 182.00 C456.81 183.58 457.07 185.67 457.30 187.50 C457.53 189.33 457.77 191.25 458.00 193.00 C458.23 194.75 458.43 196.33 458.65 198.00 C458.87 199.67 459.08 201.33 459.30 203.00 C459.52 204.67 459.73 206.33 459.95 208.00 C460.17 209.67 460.38 211.33 460.60 213.00 C460.83 214.67 461.07 216.33 461.30 218.00 C461.53 219.67 461.76 221.38 462.00 223.00 C462.24 224.62 462.50 226.17 462.75 227.75 C463.00 229.33 463.23 230.92 463.50 232.50 C463.77 234.08 464.10 235.67 464.40 237.25 C464.70 238.83 465.01 240.50 465.30 242.00 C465.59 243.50 465.87 244.83 466.15 246.25 C466.43 247.67 466.73 248.92 467.00 250.50 C467.27 252.08 467.53 254.00 467.80 255.75 C468.07 257.50 468.33 259.34 468.60 261.00 C468.88 262.66 469.17 264.13 469.45 265.70 C469.73 267.27 470.06 269.07 470.30 270.40 C470.54 271.73 470.70 272.60 470.90 273.70 C471.10 274.80 471.26 275.87 471.50 277.00 C471.74 278.13 472.07 279.33 472.35 280.50 C472.63 281.67 472.76 282.50 473.20 284.00 C473.64 285.50 474.43 287.87 475.00 289.50 C475.57 291.13 476.05 292.58 476.60 293.80 C477.15 295.02 477.68 295.90 478.30 296.80 C478.92 297.70 479.52 298.62 480.30 299.20 C481.08 299.78 481.55 300.12 483.00 300.30 C484.45 300.48 487.00 300.30 489.00 300.30 C491.00 300.30 493.00 300.30 495.00 300.30 C497.00 300.30 499.00 300.30 501.00 300.30 C503.00 300.30 505.00 300.30 507.00 300.30 C509.00 300.30 511.00 300.30 513.00 300.30 C515.00 300.30 517.00 300.30 519.00 300.30 C521.00 300.30 523.00 300.30 525.00 300.30 C527.00 300.30 529.00 300.30 531.00 300.30 C533.00 300.30 536.00 300.30 537.00 300.30" fill="none" stroke="#586ddc" stroke-width="2.8" stroke-dasharray="5.500 7.335" stroke-dashoffset="1.179" stroke-linecap="round" stroke-linejoin="round"/>
<g font-size="26" font-weight="bold">
<text x="232.5" y="369.3">log</text><text x="270.5" y="369.3" font-style="italic">f</text><text x="283.3" y="369.3">,</text><text x="297 305 325 337.5" y="369.3">[Hz]</text>
</g>
<g transform="translate(22,217) rotate(-90)" font-size="21" font-weight="bold">
<text x="0.8 12.4 19.8 29.9 38.5" y="0">&#947;(&#964;),</text>
<text x="49.5" y="0">&#937;</text><text x="76.1 86.7" y="0">cm</text><text x="103.3" y="-6.8" font-size="13">2</text>
</g>
</svg>
</body></html>
